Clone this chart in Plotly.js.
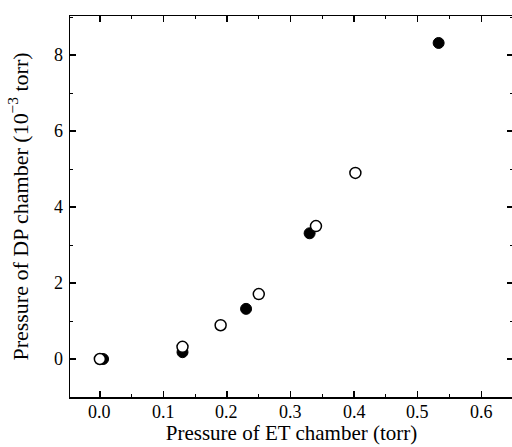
<!DOCTYPE html>
<html><head><meta charset="utf-8">
<script src="https://cdn.plot.ly/plotly-3.0.1.min.js"></script>
<style>html,body{margin:0;padding:0;overflow:hidden;background:#fff}</style>
</head><body><div id="chart"></div>
<script>
const filledX = [0.005, 0.13, 0.23, 0.33, 0.533];
const filledY = [0.0, 0.18, 1.32, 3.31, 8.32];
const openX = [0.0, 0.13, 0.19, 0.25, 0.34, 0.402];
const openY = [0.0, 0.32, 0.89, 1.71, 3.5, 4.9];
const xTickVals = [0, 0.1, 0.2, 0.3, 0.4, 0.5, 0.6];
const xTickText = ['0.0', '0.1', '0.2', '0.3', '0.4', '0.5', '0.6'];
const yTickVals = [0, 2, 4, 6, 8];
const yTickText = ['0', '2', '4', '6', '8'];

const font = '"Liberation Serif", "Times New Roman", serif';
const tickFont = {family: font, size: 18, color: '#000000'};
const traces = [
  {x: filledX, y: filledY, mode: 'markers', type: 'scatter',
   marker: {symbol: 'circle', size: 11, color: '#000', line: {color: '#000', width: 1}}},
  {x: openX, y: openY, mode: 'markers', type: 'scatter',
   marker: {symbol: 'circle', size: 11, color: '#fff', line: {color: '#000', width: 1.5}}}
];
const annotations = [];
xTickVals.forEach((v, i) => annotations.push({
  x: v, xref: 'x', y: 0, yref: 'paper', yanchor: 'top', xanchor: 'center',
  yshift: -3, text: xTickText[i], showarrow: false, font: tickFont
}));
yTickVals.forEach((v, i) => annotations.push({
  x: 0, xref: 'paper', y: v, yref: 'y', xanchor: 'right', yanchor: 'middle',
  xshift: -5, text: yTickText[i], showarrow: false, font: tickFont
}));
const layout = {
  width: 513, height: 447,
  margin: {l: 70, r: 0, t: 16, b: 50},
  paper_bgcolor: '#fff', plot_bgcolor: '#fff',
  font: {family: font, color: '#000', size: 18},
  showlegend: false,
  annotations: annotations,
  xaxis: {
    showline: true, linecolor: '#000', linewidth: 1.5, mirror: 'ticks',
    ticks: 'inside', ticklen: 6, tickwidth: 1.3, tickcolor: '#000',
    showgrid: false, zeroline: false, showticklabels: false,
    range: [-0.047, 0.65], tickmode: 'array', tickvals: xTickVals,
    minor: {dtick: 0.05, tick0: 0, ticks: 'inside', ticklen: 3, tickcolor: '#000', tickwidth: 1},
    title: {text: 'Pressure of ET chamber (torr)', font: {family: font, size: 21, color: '#000'}, standoff: 28}
  },
  yaxis: {
    showline: true, linecolor: '#000', linewidth: 1.5, mirror: 'ticks',
    ticks: 'inside', ticklen: 6, tickwidth: 1.3, tickcolor: '#000',
    showgrid: false, zeroline: false, showticklabels: false,
    range: [-1, 9.03], tickmode: 'array', tickvals: yTickVals,
    minor: {dtick: 1, tick0: 0, ticks: 'inside', ticklen: 3, tickcolor: '#000', tickwidth: 1},
    title: {text: 'Pressure of DP chamber (10<sup>−3</sup> torr)', font: {family: font, size: 22, color: '#000'}, standoff: 34}
  }
};
Plotly.newPlot('chart', traces, layout, {displayModeBar: false, staticPlot: true});
</script></body></html>
